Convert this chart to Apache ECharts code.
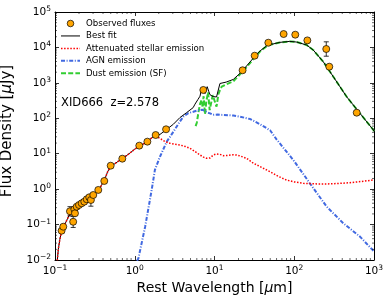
<!DOCTYPE html>
<html><head><meta charset="utf-8">
<script src="https://cdn.jsdelivr.net/npm/echarts@6/dist/echarts.min.js"></script>
<style>html,body{margin:0;padding:0;background:#fff}#c{width:392px;height:301px}</style>
</head><body><div id="c"></div>
<script>
// ---- observed photometry ----
const obsX = [0.121,0.127,0.154,0.169,0.175,0.178,0.187,0.200,0.216,0.233,0.250,0.269,0.282,0.302,0.349,0.415,0.499,0.698,1.14,1.44,1.83,2.47,7.24,22.5,31.9,47.3,73.6,103,146,252,275,607];
const obsY = [0.067,0.087,0.237,0.120,0.270,0.208,0.320,0.357,0.399,0.443,0.518,0.589,0.494,0.684,0.95,1.70,4.59,7.24,16.9,21.9,33.7,48.9,630,2265,5850,13600,23900,22900,15800,9030,2860,144];
// error bars (only the points that show one)
const errX  = [0.154,0.169,0.282,252];
const errLo = [0.175,0.083,0.33,5650];
const errHi = [0.32,0.17,0.60,14400];

// ---- best fit ----
const fitX = [0.106,0.11,0.115,0.12,0.127,0.135,0.15,0.17,0.2,0.25,0.3,0.35,0.38,0.42,0.46,0.5,0.6,0.7,0.85,1.0,1.2,1.4,1.6,1.8,2.07,2.47,3.05,3.69,4.48,4.93,5.4,5.69,6.2,6.58,6.9,7.24,7.6,8.1,8.5,8.8,9.6,10.1,10.6,11.2,11.7,12.3,14,17.2,20.9,23,30.7,37.3,45,50,66,88,107,143,173,231,309,454,667,980,1000];
const fitY = [0.008,0.02,0.038,0.06,0.085,0.11,0.18,0.25,0.34,0.48,0.65,0.95,1.25,1.9,3.2,4.3,5.8,7.3,10,13.5,17.5,21,27,33,35,47,68,105,145,171,200,250,340,420,700,640,500,780,560,460,410,440,400,370,960,930,1050,1250,1860,2350,5000,8000,11000,12000,13900,14800,14200,11700,8460,3950,1490,406,138,47,43];

// ---- attenuated stellar emission ----
const stelX = [0.106,0.11,0.115,0.12,0.127,0.135,0.15,0.17,0.2,0.25,0.3,0.35,0.38,0.42,0.46,0.5,0.6,0.7,0.85,1.0,1.2,1.4,1.6,1.8,2.07,2.4,2.77,3.2,3.69,4.3,4.93,5.7,6.58,7.3,7.98,8.8,9.67,10.5,11.7,13,15,17,19,21,25.3,30.7,40,49.7,63,80,100,130,180,255,350,500,700,980];
const stelY = [0.008,0.02,0.038,0.06,0.085,0.11,0.18,0.25,0.34,0.48,0.65,0.95,1.25,1.9,3.2,4.3,5.8,7.3,10,13.5,17.5,21,27,33,27,22,19.7,18.5,17.6,16,14.2,11.5,9.2,8,7.4,7.6,9.2,9.8,9.6,8.8,9.0,9.3,9.2,8.6,7.4,5.4,4.0,3.1,2.3,1.81,1.6,1.46,1.41,1.40,1.44,1.52,1.65,1.81];

// ---- AGN emission ----
const agnX = [0.95,1.11,1.35,1.63,1.79,2.07,2.52,3.05,3.6,4.06,4.7,5.42,6.2,7.0,7.6,8.2,8.8,9.6,10.1,11,12.3,15,17.2,20.9,28,37.2,49.7,60.3,97.3,157,255,412,667,1000];
const agnY = [0.006,0.011,0.087,0.95,3.5,8.2,21.9,41.6,75,111,140,153,168,175,160,145,138,125,123,128,125,122,120,111,95,68,46,25,6.65,1.46,0.32,0.109,0.0457,0.0175];

// ---- dust emission (SF) ----
const dustX = [5.8,6.0,6.3,6.6,6.9,7.1,7.3,7.6,7.9,8.3,8.7,9.0,9.5,10.0,10.6,11.2,11.7,12.3,14,17.2,20.9,23,30.7,37.3,45,50,66,88,107,143,173,231,309,454,667,980,1000];
const dustY = [60,75,150,260,330,200,420,130,300,540,170,160,450,400,212,480,620,780,900,1100,1750,2150,4700,7700,10800,11900,13800,14800,14200,11700,8460,3950,1490,406,138,47,43];

// ---- axes / labels ----
const xTickExps = [-1,0,1,2,3];
const yTickExps = [-2,-1,0,1,2,3,4,5];
const legendNames = ['Observed fluxes','Best fit','Attenuated stellar emission','AGN emission','Dust emission (SF)'];
const labelText = 'XID666  z=2.578';

const F = 'DejaVu Sans';
const C_OBS = '#ffa500', C_FIT = '#000000', C_STEL = '#ff0000', C_AGN = '#4169e1', C_DUST = '#32cd32';
const D_STEL = [1.5,1.6], D_AGN = [4,1.6,1,1.6], D_DUST = [5,2.2];

const zip = (a,b) => a.map((v,i)=>[v,b[i]]);
const xMin = Math.pow(10, xTickExps[0]), xMax = Math.pow(10, xTickExps[xTickExps.length-1]);
const yMin = Math.pow(10, yTickExps[0]), yMax = Math.pow(10, yTickExps[yTickExps.length-1]);

const minorX = [], minorY = [];
for (let e = xTickExps[0]; e < xTickExps[xTickExps.length-1]; e++) for (let m = 2; m <= 9; m++) minorX.push([m*Math.pow(10,e), 1]);
for (let e = yTickExps[0]; e < yTickExps[yTickExps.length-1]; e++) for (let m = 2; m <= 9; m++) minorY.push([1, m*Math.pow(10,e)]);

function powLabel(v){
  const e = Math.round(Math.log10(v));
  return '{b|10}{s|' + (e < 0 ? '\u2212' + (-e) : e) + '}';
}
const tickRich = {
  b:{fontSize:10.5, fontFamily:F, color:'#000'},
  s:{fontSize:7.5, fontFamily:F, color:'#000', padding:[0,0,6,0]}
};
const tickCommon = {inside:true, length:4, lineStyle:{color:'#000', width:0.8}};
const lineCommon = {show:true, lineStyle:{color:'#000', width:1}};
function nameStyle(size, pad){
  return {fontFamily:F, fontSize:size, color:'#000', padding:pad,
    rich:{m:{fontFamily:F, fontSize:size, fontStyle:'italic', color:'#000'}}};
}

function axisX(pos, labels){
  return {type:'log', logBase:10, min:xMin, max:xMax, splitNumber:xTickExps.length-1, position:pos,
    axisLine:lineCommon, axisTick:tickCommon, splitLine:{show:false}, minorTick:{show:false},
    axisLabel:{show:labels, formatter:powLabel, rich:tickRich, margin:4},
    name: labels ? 'Rest Wavelength [{m|\u03bc}m]' : '', nameLocation:'middle', nameGap:19,
    nameTextStyle:nameStyle(14, 0)};
}
function axisY(pos, labels){
  return {type:'log', logBase:10, min:yMin, max:yMax, splitNumber:yTickExps.length-1, position:pos,
    axisLine:lineCommon, axisTick:tickCommon, splitLine:{show:false}, minorTick:{show:false},
    axisLabel:{show:labels, formatter:powLabel, rich:tickRich, margin:4},
    name: labels ? 'Flux Density [{m|\u03bc}Jy]' : '', nameLocation:'middle', nameGap:40,
    nameTextStyle:nameStyle(15, [0,0,0,10])};
}

function minorXItem(params, api){
  const cs = params.coordSys;
  const x = api.coord([api.value(0), 1])[0];
  const b = cs.y + cs.height, t = cs.y;
  const st = {stroke:'#000', lineWidth:0.6};
  return {type:'group', children:[
    {type:'line', shape:{x1:x,y1:b,x2:x,y2:b-2}, style:st},
    {type:'line', shape:{x1:x,y1:t,x2:x,y2:t+2}, style:st}]};
}
function minorYItem(params, api){
  const cs = params.coordSys;
  const y = api.coord([1, api.value(1)])[1];
  const l = cs.x, r = cs.x + cs.width;
  const st = {stroke:'#000', lineWidth:0.6};
  return {type:'group', children:[
    {type:'line', shape:{x1:l,y1:y,x2:l+2,y2:y}, style:st},
    {type:'line', shape:{x1:r,y1:y,x2:r-2,y2:y}, style:st}]};
}
function errItem(params, api){
  const p0 = api.coord([api.value(0), api.value(1)]);
  const p1 = api.coord([api.value(0), api.value(2)]);
  const st = {stroke:'#000', lineWidth:0.8};
  return {type:'group', children:[
    {type:'line', shape:{x1:p0[0],y1:p0[1],x2:p1[0],y2:p1[1]}, style:st},
    {type:'line', shape:{x1:p0[0]-2.5,y1:p0[1],x2:p0[0]+2.5,y2:p0[1]}, style:st},
    {type:'line', shape:{x1:p1[0]-2.5,y1:p1[1],x2:p1[0]+2.5,y2:p1[1]}, style:st}]};
}

// hand-drawn legend (matplotlib style: handle line + label)
const LG = {x0:61, x1:80, tx:86, y0:23.5, dy:12.45};
const legendGraphic = [];
const handles = [
  {marker:true},
  {stroke:C_FIT, width:1, dash:null},
  {stroke:C_STEL, width:1.5, dash:D_STEL},
  {stroke:C_AGN, width:2, dash:D_AGN},
  {stroke:C_DUST, width:2, dash:D_DUST}
];
handles.forEach((h, i) => {
  const y = LG.y0 + i*LG.dy;
  if (h.marker) {
    legendGraphic.push({type:'circle', shape:{cx:(LG.x0+LG.x1)/2, cy:y, r:3.3}, style:{fill:C_OBS, stroke:'#000', lineWidth:0.7}, z:100});
  } else {
    legendGraphic.push({type:'line', shape:{x1:LG.x0, y1:y, x2:LG.x1, y2:y}, style:{stroke:h.stroke, lineWidth:h.width, lineDash:h.dash}, z:100});
  }
  legendGraphic.push({type:'text', x:LG.tx, y:y, style:{text:legendNames[i], fontFamily:F, fontSize:8.6, fill:'#000', verticalAlign:'middle', align:'left'}, z:100});
});
legendGraphic.push({type:'text', x:61, y:103.5, style:{text:labelText, fontFamily:F, fontSize:11.5, fill:'#000', verticalAlign:'middle', align:'left'}, z:100});

const chart = echarts.init(document.getElementById('c'), null, {renderer:'canvas'});
chart.setOption({
  animation:false,
  backgroundColor:'#fff',
  grid:{left:55, top:12, right:18, bottom:41, containLabel:false, outerBoundsMode:'none'},
  xAxis:[axisX('bottom', true), axisX('top', false)],
  yAxis:[axisY('left', true), axisY('right', false)],
  graphic:legendGraphic,
  series:[
    {name:legendNames[4], type:'line', data:zip(dustX, dustY), symbol:'none', z:3,
      lineStyle:{color:C_DUST, width:2, type:D_DUST}},
    {name:legendNames[3], type:'line', data:zip(agnX, agnY), symbol:'none', z:3,
      lineStyle:{color:C_AGN, width:2, type:D_AGN}},
    {name:legendNames[1], type:'line', data:zip(fitX, fitY), symbol:'none', z:4,
      lineStyle:{color:C_FIT, width:1}},
    {name:legendNames[2], type:'line', data:zip(stelX, stelY), symbol:'none', z:5,
      lineStyle:{color:C_STEL, width:1.5, type:D_STEL}},
    {name:'err', type:'custom', data:errX.map((x,i)=>[x, errLo[i], errHi[i]]), renderItem:errItem, z:6,
      encode:{x:0, y:[1,2]}, silent:true},
    {name:legendNames[0], type:'scatter', data:zip(obsX, obsY), symbol:'circle', symbolSize:7, z:7,
      itemStyle:{color:C_OBS, borderColor:'#000', borderWidth:0.7, opacity:1}},
    {name:'minorX', type:'custom', data:minorX, renderItem:minorXItem, encode:{x:0,y:1}, silent:true, z:8, clip:false},
    {name:'minorY', type:'custom', data:minorY, renderItem:minorYItem, encode:{x:0,y:1}, silent:true, z:8, clip:false}
  ]
});
</script></body></html>
